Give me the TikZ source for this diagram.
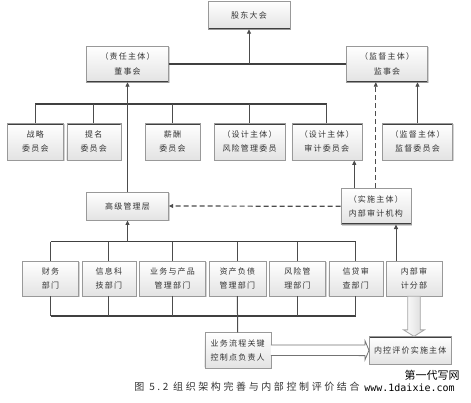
\documentclass[tikz,border=0pt]{standalone}
\usepackage{fontspec}
\usepackage{tikz}
\usetikzlibrary{arrows.meta, positioning, shadows}
\newfontfamily\cjk[LetterSpace=15]{Noto Sans CJK SC}
\newfontfamily\capfont[LetterSpace=26]{Noto Sans CJK SC}
\newfontfamily\wmcjk{Noto Sans CJK SC}
\newfontfamily\wmfont{DejaVu Sans Mono}

\begin{document}
\begin{tikzpicture}[
  x=1pt, y=-1pt,
  box/.style={draw=black!40, top color=white, bottom color=black!11, align=center, inner sep=0pt,
    drop shadow={shadow xshift=1.2pt, shadow yshift=-1.2pt, opacity=0.35},
    text=black!80, font=\cjk\fontsize{8}{14.3}\selectfont},
  botline/.style={path picture={\draw[black!75, line width=2.6pt] (path picture bounding box.south west) -- (path picture bounding box.south east);}},
  topline/.style={path picture={\draw[black!75, line width=2.6pt] (path picture bounding box.north west) -- (path picture bounding box.north east);}},
  conn/.style={draw=black!70, line width=1pt},
  bus/.style={draw=black!75, line width=1.5pt},
  arrow/.style={-{Triangle[length=4.5pt, width=4pt]}, draw=black!70, line width=0.9pt},
  dashedarrow/.style={arrow, dash pattern=on 5pt off 3pt},
  hollow/.style={draw=black!55, line width=0.8pt, fill=white},
  hollowv/.style={draw=black!35, line width=0.8pt, left color=white, right color=black!15}
]
\useasboundingbox (0,0) rectangle (471,402);

\node[box, botline, minimum width=82, minimum height=28] (gd) at (249,15) {股东大会};
\node[box, botline, minimum width=82, minimum height=36] (dsh) at (127.5,64) {（责任主体）\\董事会};
\node[box, botline, minimum width=81, minimum height=36] (jsh) at (387,64) {（监督主体）\\监事会};

\node[box, topline, minimum width=56, minimum height=37] (zl) at (35.3,141.7) {战略\\委员会};
\node[box, topline, minimum width=54, minimum height=37] (tm) at (93.7,141.7) {提名\\委员会};
\node[box, topline, minimum width=55, minimum height=37] (xc) at (172.5,141.7) {薪酬\\委员会};
\node[box, topline, minimum width=71, minimum height=37] (fx) at (249.5,141.7) {（设计主体）\\风险管理委员};
\node[box, topline, minimum width=70, minimum height=37] (sj) at (326.8,141.7) {（设计主体）\\审计委员会};
\node[box, topline, minimum width=70, minimum height=37] (jd) at (417.5,141.7) {（监督主体）\\监督委员会};

\node[box, minimum width=82, minimum height=28.5] (gg) at (127.5,206) {高级管理层};
\node[box, botline, minimum width=70, minimum height=36] (nsj) at (375.8,206.3) {（实施主体）\\内部审计机构};

\node[box, minimum width=56, minimum height=35] (cw) at (50.5,278.5) {财务\\部门};
\node[box, minimum width=54, minimum height=35] (xx) at (108.8,278.5) {信息科\\技部门};
\node[box, minimum width=66, minimum height=35] (yw) at (172.5,278.5) {业务与产品\\管理部门};
\node[box, minimum width=57, minimum height=35] (zc) at (237.3,278.5) {资产负债\\管理部门};
\node[box, minimum width=56, minimum height=35] (fxb) at (297.5,278.5) {风险管\\理部门};
\node[box, minimum width=54, minimum height=35] (xd) at (355.7,278.5) {信贷审\\查部门};
\node[box, minimum width=56, minimum height=35] (nbf) at (414,278.5) {内部审\\计分部};

\node[box, minimum width=66, minimum height=35.5] (lc) at (237.7,350.2) {业务流程关键\\控制点负责人};
\node[box, topline, minimum width=82, minimum height=27.5] (nk) at (410.2,350.3) {内控评价实施主体};

\coordinate (cbus) at (0,104);
\coordinate (dbus) at (0,241.7);
\coordinate (bbus) at (0,316);

\draw[bus] (dsh.east) -- (jsh.west);
\draw[arrow] (gd.south |- dsh.east) -- (gd.south);

\draw[bus] (zl.north |- cbus) -- (sj.north |- cbus);
\foreach \n in {zl, tm, xc, fx, sj}
  \draw[conn] (\n.north |- cbus) -- (\n.north);
\draw[arrow] (gg.north) -- (dsh.south);
\draw[dashedarrow] (nsj.north) -- (nsj.north |- jsh.south);
\draw[arrow] (jd.north) -- (jd.north |- jsh.south);
\draw[arrow] ([xshift=-21.5pt]nsj.north) -- ([xshift=-21.5pt]nsj.north |- sj.south);
\draw[dashedarrow, line width=1.2pt] (nsj.west) -- (gg.east);

\draw[bus] (cw.north |- dbus) -- (xd.north |- dbus);
\foreach \n in {cw, xx, yw, zc, fxb, xd}
  \draw[conn] (\n.north |- dbus) -- (\n.north);
\draw[arrow] (gg.south |- dbus) -- (gg.south);
\draw[arrow] ([xshift=-18pt]nbf.north) -- ([xshift=-18pt]nbf.north |- nsj.south);

\draw[bus] (cw.south |- bbus) -- (xd.south |- bbus);
\foreach \n in {cw, xx, yw, fxb, xd}
  \draw[conn] (\n.south) -- (\n.south |- bbus);
\draw[conn] (zc.south) -- (lc.north);

\draw[hollow] ([yshift=5.3pt]lc.east) -- ([xshift=-4pt, yshift=5.3pt]nk.west) -- ([xshift=-4pt, yshift=9.5pt]nk.west)
  -- (nk.west) -- ([xshift=-4pt, yshift=-9.5pt]nk.west) -- ([xshift=-4pt, yshift=-5.3pt]nk.west)
  -- ([yshift=-5.3pt]lc.east);
\draw[hollowv] ([xshift=-6.3pt]nbf.south) -- ([xshift=-6.3pt, yshift=6.5pt]nbf.south |- nk.north)
  -- ([xshift=-10.5pt, yshift=6.5pt]nbf.south |- nk.north) -- (nbf.south |- nk.north)
  -- ([xshift=10.5pt, yshift=6.5pt]nbf.south |- nk.north) -- ([xshift=6.3pt, yshift=6.5pt]nbf.south |- nk.north)
  -- ([xshift=6.3pt]nbf.south) -- cycle;

\node[text=black!80, font=\capfont\fontsize{10}{12}\selectfont] (cap) at (247,387) {图 5.2 组织架构完善与内部控制评价结合};
\node[font=\wmcjk\fontsize{11}{12}\selectfont] (wm) at (432,375) {第一代写网};
\node[font=\wmfont\fontsize{10}{12}\selectfont] (url) at (409.5,387.5) {www.1daixie.com};
\end{tikzpicture}
\end{document}
